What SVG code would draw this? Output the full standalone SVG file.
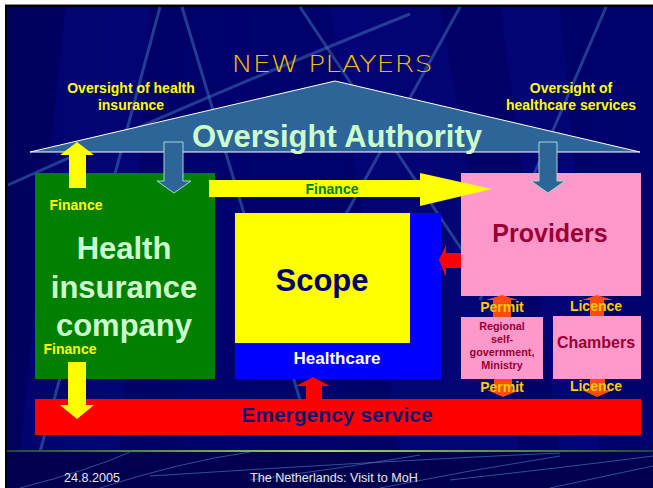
<svg xmlns="http://www.w3.org/2000/svg" width="653" height="488" viewBox="0 0 653 488">
  <defs>
    <linearGradient id="rule" x1="0" y1="0" x2="1" y2="0">
      <stop offset="0" stop-color="#1E4A3A"/>
      <stop offset="0.5" stop-color="#9ADD55"/>
      <stop offset="1" stop-color="#1E4A3A"/>
    </linearGradient>
    <linearGradient id="bg" x1="0" y1="0" x2="1" y2="0">
      <stop offset="0" stop-color="#00005C"/>
      <stop offset="0.35" stop-color="#00006E"/>
      <stop offset="0.7" stop-color="#000066"/>
      <stop offset="1" stop-color="#00006C"/>
    </linearGradient>
    <style>
      text { font-family: "Liberation Sans", Arial, sans-serif; font-weight: bold; text-anchor: middle; }
      .deco { fill: none; stroke: #3A6DB0; stroke-width: 3; stroke-opacity: 0.55; }
      .fdeco { fill: none; stroke: #4F84C8; stroke-width: 1; stroke-opacity: 0.6; }
      .band { fill: #0A0A90; opacity: 0.35; }
      .lbl { fill: #FFFF00; font-size: 14px; }
      .gate { fill: #FFCC00; font-size: 14px; }
      .blue-arrow { fill: #2D6599; stroke: #A8D8D0; stroke-width: 1; }
      .yellow { fill: #FFFF00; }
      .red { fill: #FF0000; }
      .orange { fill: #FF4A12; }
      .pink { fill: #FF99CC; }
      .foot { fill: #E8E8F4; font-weight: normal; font-size: 12.6px; text-anchor: start; }
      .title { font-family: "DejaVu Sans", "Liberation Sans", sans-serif; font-weight: 200; font-size: 23px; fill: #F0C000; }
    </style>
  </defs>

  <!-- slide frame -->
  <rect x="0" y="0" width="653" height="488" fill="#FFFFFF"/>
  <rect x="5" y="4" width="648" height="484" fill="url(#bg)"/>
  <line x1="5" y1="4.5" x2="653" y2="4.5" stroke="#888888" stroke-width="1"/>
  <line x1="5" y1="6" x2="653" y2="6" stroke="#000000" stroke-width="2"/>
  <line x1="6" y1="5" x2="6" y2="488" stroke="#000000" stroke-width="2"/>

  <!-- background bands and streaks -->
  <polygon class="band" points="65,7 150,7 120,452 20,452"/>
  <polygon class="band" points="330,7 440,7 520,452 400,452"/>
  <polygon class="band" points="500,7 560,7 600,452 560,452"/>
  <path class="deco" d="M160,7 L40,452"/>
  <path class="deco" d="M182,7 L300,400"/>
  <path class="deco" d="M410,14 Q220,90 8,185"/>
  <path class="deco" d="M300,7 L462,250"/>
  <path class="deco" d="M460,7 L340,225"/>
  <path class="deco" d="M606,7 L480,300"/>

  <!-- footer -->
  <rect x="7" y="452" width="646" height="36" fill="#00004E"/>
  <path class="fdeco" d="M20,488 Q90,470 130,452"/>
  <path class="fdeco" d="M100,488 Q180,462 250,452"/>
  <path class="fdeco" d="M150,476 Q400,460 560,453"/>
  <path class="fdeco" d="M250,480 Q330,470 420,455"/>
  <path class="fdeco" d="M380,488 Q470,470 560,456"/>
  <path class="fdeco" d="M450,480 Q560,468 653,456"/>
  <path class="fdeco" d="M550,488 Q610,475 653,466"/>
  <rect x="7" y="450" width="646" height="2" fill="url(#rule)"/>
  <text class="foot" x="64" y="482">24.8.2005</text>
  <text class="foot" x="250" y="482">The Netherlands: Visit to MoH</text>

  <!-- title -->
  <text class="title" x="332" y="72" textLength="201" lengthAdjust="spacingAndGlyphs">NEW PLAYERS</text>

  <!-- roof: oversight authority -->
  <g id="oversight-authority">
    <polygon points="30,152 335,81 640,152" fill="#2D6599" stroke="#FFFFFF" stroke-width="1"/>
    <text x="337" y="147" font-size="31" fill="#CCFFCC">Oversight Authority</text>
  </g>
  <text class="lbl" x="131" y="93">Oversight of health</text>
  <text class="lbl" x="131" y="110">insurance</text>
  <text class="lbl" x="571" y="93">Oversight of</text>
  <text class="lbl" x="571" y="110">healthcare services</text>

  <!-- health insurance company -->
  <g id="health-insurance">
    <rect x="35" y="173" width="180" height="206" fill="#008000"/>
    <text x="124" y="259" font-size="31" fill="#CCFFCC">Health</text>
    <text x="124" y="298" font-size="31" fill="#CCFFCC">insurance</text>
    <text x="124" y="336" font-size="31" fill="#CCFFCC">company</text>
  </g>

  <!-- scope of healthcare -->
  <g id="scope">
    <rect x="235" y="213" width="206" height="166" fill="#0000FF"/>
    <rect x="235" y="213" width="175" height="130" fill="#FFFF00"/>
    <text x="322" y="291" font-size="31" fill="#000066">Scope</text>
    <text x="337" y="364" font-size="17" fill="#FFFFFF">Healthcare</text>
  </g>

  <!-- providers -->
  <g id="providers">
    <rect x="461" y="173" width="180" height="123" class="pink"/>
    <text x="550" y="242" font-size="25" fill="#990033">Providers</text>
  </g>

  <!-- regional self-government -->
  <g id="regional-government">
    <rect x="461" y="317" width="82" height="62" class="pink"/>
    <text x="502" y="330" font-size="10.8" fill="#990033">Regional</text>
    <text x="502" y="343" font-size="10.8" fill="#990033">self-</text>
    <text x="502" y="356" font-size="10.8" fill="#990033">government,</text>
    <text x="502" y="369" font-size="10.8" fill="#990033">Ministry</text>
  </g>

  <!-- chambers -->
  <g id="chambers">
    <rect x="553" y="316" width="88" height="63" class="pink"/>
    <text x="596" y="348" font-size="16" fill="#990033">Chambers</text>
  </g>

  <!-- emergency service -->
  <g id="emergency">
    <rect x="35" y="399" width="606" height="36" class="red"/>
    <text x="337" y="422" font-size="21" fill="#14146E">Emergency service</text>
  </g>

  <!-- connectors -->
  <g id="connectors">
    <!-- insurer to oversight (finance up) -->
    <polygon class="yellow" points="69,188 69,155 60,155 77,142 94,155 86,155 86,188"/>
    <text class="lbl" x="76" y="210">Finance</text>
    <!-- insurer to emergency (finance down) -->
    <polygon class="yellow" points="68,362 86,362 86,405 94,405 77,419 60,405 68,405"/>
    <text class="lbl" x="70" y="354">Finance</text>
    <!-- oversight down to insurer -->
    <polygon class="blue-arrow" points="164,142 183,142 183,181 191,181 174,193 157,181 164,181"/>
    <!-- oversight down to providers -->
    <polygon class="blue-arrow" points="539,142 557,142 557,181 565,181 548,193 531,181 539,181"/>
    <!-- insurer to providers (finance) -->
    <polygon class="yellow" points="209,180 420,180 420,173 492,189 420,206 420,197 209,197"/>
    <text x="332" y="194" font-size="14" fill="#008000">Finance</text>
    <!-- providers to scope -->
    <polygon class="red" points="461,253 446,253 446,245 439,260 446,277 446,268 461,268"/>
    <!-- emergency to scope -->
    <polygon class="red" points="306,400 306,386 296,386 313,377 330,386 322,386 322,400"/>
    <!-- permit / licence gates -->
    <polygon class="orange" points="493,317 493,300 486,300 502,295 518,300 511,300 511,317"/>
    <polygon class="orange" points="590,316 590,300 582,300 597,295 613,300 604,300 604,316"/>
    <polygon class="orange" points="494,379 512,379 512,390 520,390 503,397 487,390 494,390"/>
    <polygon class="orange" points="590,379 605,379 605,390 613,390 597,397 582,390 590,390"/>
    <text class="gate" x="502" y="312">Permit</text>
    <text class="gate" x="596" y="311">Licence</text>
    <text class="gate" x="502" y="392">Permit</text>
    <text class="gate" x="596" y="391">Licence</text>
  </g>
</svg>
